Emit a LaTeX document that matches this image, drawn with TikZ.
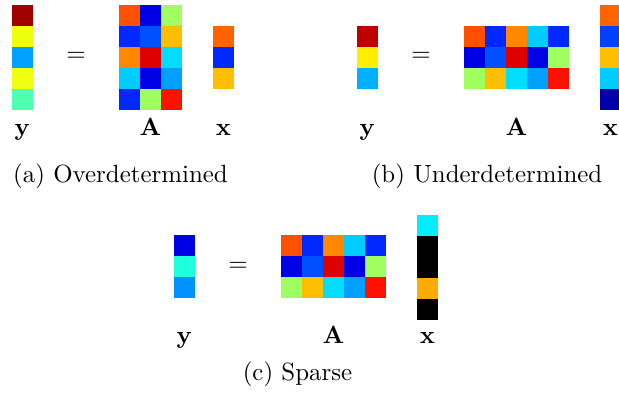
\documentclass[tikz,border=0pt]{standalone}
\usepackage{amsmath}
\usepackage{graphicx}

% jet-style cell colours
\definecolor{jDkRed}{HTML}{A00000}
\definecolor{jRedB}{HTML}{C00000}
\definecolor{jRed}{HTML}{DD0000}
\definecolor{jRedO}{HTML}{FF1000}
\definecolor{jOrR}{HTML}{FF5000}
\definecolor{jOrX}{HTML}{FF6400}
\definecolor{jOr}{HTML}{FF8800}
\definecolor{jAmb}{HTML}{FFAA00}
\definecolor{jGold}{HTML}{FFBE00}
\definecolor{jYel}{HTML}{EEFF10}
\definecolor{jYelB}{HTML}{FFEE00}
\definecolor{jLGr}{HTML}{A0FF60}
\definecolor{jMint}{HTML}{50FFB0}
\definecolor{jAqua}{HTML}{20FFDD}
\definecolor{jCyan}{HTML}{00EEFF}
\definecolor{jCyanA}{HTML}{00DDFF}
\definecolor{jCyanB}{HTML}{00CCFF}
\definecolor{jSky}{HTML}{00A0FF}
\definecolor{jSkyB}{HTML}{00B0FF}
\definecolor{jAzure}{HTML}{0090FF}
\definecolor{jBlL}{HTML}{0050FF}
\definecolor{jBlM}{HTML}{0040FF}
\definecolor{jBl}{HTML}{0028FF}
\definecolor{jBlD}{HTML}{0000E6}
\definecolor{jNavy}{HTML}{0000AA}

% 10pt text enlarged, keeping the 10pt design size
\newcommand{\bigtxt}[1]{\scalebox{2.49}{#1}}

\tikzset{
  lbl/.style={anchor=base, inner sep=0pt},
  subcap/.style={anchor=base, inner sep=0pt},
}

% grid of 21x21 cells: #1,#2 = top-left corner, #3 = columns, #4 = colours row by row
\newcommand{\heatgrid}[4]{%
  \foreach \cc [count=\ii from 0] in {#4} {%
    \pgfmathtruncatemacro{\rr}{floor(\ii/#3)}%
    \pgfmathtruncatemacro{\kk}{\ii-\rr*#3}%
    \fill[\cc] ({#1+\kk*21},{#2+\rr*21}) rectangle ++(21,21);
  }}

\begin{document}
\begin{tikzpicture}[x=1pt,y=-1pt]
\useasboundingbox (0,0) rectangle (619,394);
\begin{scope}
\clip (0,0) rectangle (619,394);

% (a) overdetermined
\heatgrid{12}{5}{1}{jDkRed,jYel,jSky,jYel,jMint}
\heatgrid{119}{5}{3}{jOrR,jBlD,jLGr, jBl,jBlL,jGold, jOr,jRed,jCyanA, jCyanB,jBlD,jSky, jBl,jLGr,jRedO}
\heatgrid{213}{26}{1}{jOrX,jBl,jGold}

% (b) underdetermined
\heatgrid{357}{26}{1}{jRedB,jYelB,jSkyB}
\heatgrid{464}{26}{5}{jOrR,jBl,jOr,jCyanB,jBl, jBlD,jBlL,jRed,jBlD,jLGr, jLGr,jGold,jCyanA,jSky,jRedO}
\heatgrid{600}{5}{1}{jOrX,jBlM,jGold,jCyanB,jNavy}

% (c) sparse
\heatgrid{174}{235}{1}{jBlD,jAqua,jAzure}
\heatgrid{281}{235}{5}{jOrR,jBl,jOr,jCyanB,jBl, jBlD,jBlL,jRed,jBlD,jLGr, jLGr,jGold,jCyanA,jSky,jRedO}
\heatgrid{417}{215}{1}{jCyan,black,black,jAmb,black}
\end{scope}

% equals signs
\node[lbl] (eqa) at (76,61) {\bigtxt{$=$}};
\node[lbl] (eqb) at (421,61) {\bigtxt{$=$}};
\node[lbl] (eqc) at (238,271) {\bigtxt{$=$}};

% labels under the blocks
\node[lbl] (ya) at (22.5,135) {\bigtxt{$\mathbf{y}$}};
\node[lbl] (Aa) at (150.5,135) {\bigtxt{$\mathbf{A}$}};
\node[lbl] (xa) at (223.5,135) {\bigtxt{$\mathbf{x}$}};

\node[lbl] (yb) at (367.5,135) {\bigtxt{$\mathbf{y}$}};
\node[lbl] (Ab) at (516.5,135) {\bigtxt{$\mathbf{A}$}};
\node[lbl] (xb) at (610.5,135) {\bigtxt{$\mathbf{x}$}};

\node[lbl] (yc) at (184.5,343) {\bigtxt{$\mathbf{y}$}};
\node[lbl] (Ac) at (333.5,343) {\bigtxt{$\mathbf{A}$}};
\node[lbl] (xc) at (427.5,343) {\bigtxt{$\mathbf{x}$}};

% sub-captions
\node[subcap] (capa) at (120.5,182) {\bigtxt{(a) Overdetermined}};
\node[subcap] (capb) at (487,182) {\bigtxt{(b) Underdetermined}};
\node[subcap] (capc) at (297.5,380) {\bigtxt{(c) Sparse}};
\end{tikzpicture}
\end{document}
